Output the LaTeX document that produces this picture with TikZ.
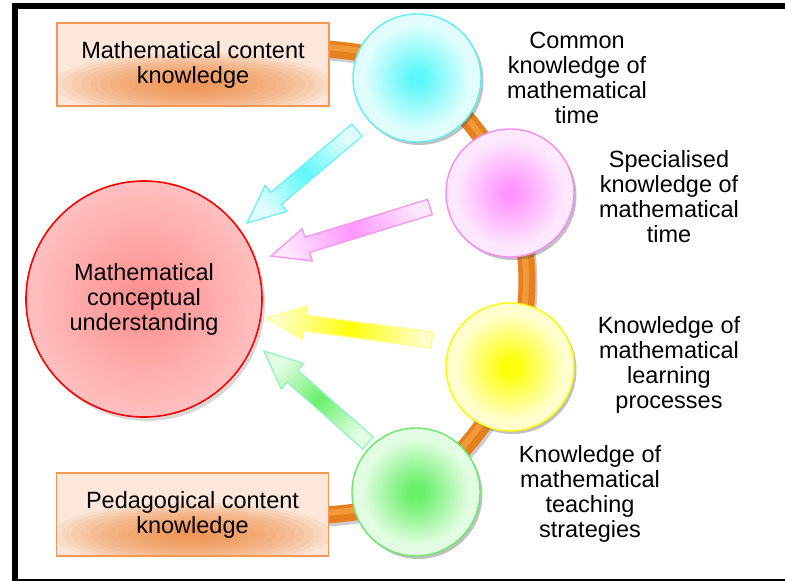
\documentclass[tikz,border=0pt]{standalone}
\usepackage{fontspec}
\setmainfont{Liberation Sans}
\usetikzlibrary{calc,shadows,backgrounds}
\definecolor{tubeo}{RGB}{230,128,30}
\definecolor{tubeh}{RGB}{246,160,64}
\definecolor{rectb}{RGB}{246,150,80}
\definecolor{rectp}{RGB}{252,231,218}
\definecolor{rectg}{RGB}{240,135,60}
\definecolor{cyb}{RGB}{95,238,245}
\definecolor{cyc}{RGB}{95,248,250}
\definecolor{cyp}{RGB}{226,253,253}
\definecolor{mgb}{RGB}{243,140,243}
\definecolor{mgc}{RGB}{255,150,255}
\definecolor{mgp}{RGB}{253,232,253}
\definecolor{ylb}{RGB}{255,250,0}
\definecolor{ylc}{RGB}{255,255,10}
\definecolor{ylp}{RGB}{255,255,205}
\definecolor{grb}{RGB}{105,235,105}
\definecolor{grc}{RGB}{105,240,105}
\definecolor{grp}{RGB}{226,253,226}
\definecolor{rdc}{RGB}{255,140,140}
\definecolor{rdp}{RGB}{255,192,192}
\definecolor{grab}{RGB}{150,240,200}
\definecolor{cyab}{RGB}{110,240,248}
\definecolor{mgab}{RGB}{245,150,240}
\definecolor{ylab}{RGB}{255,255,140}
\colorlet{gca}{white}
\colorlet{gcb}{white}
\pgfdeclareradialshading[gca,gcb]{glowball}{\pgfpoint{0bp}{0bp}}{color(0bp)=(gca); color(3bp)=(gca); color(21bp)=(gcb); color(25bp)=(gcb); color(50bp)=(gcb)}
\newcommand\karrow[6]{%
  \coordinate (hb) at ($(#2)!38pt!(#1)$);
  \draw[draw=#3, line width=1.3pt, top color=#4, bottom color=#4, middle color=#5, shading angle=#6]
    ($(#1)!8pt!90:(#2)$) -- ($(hb)!8pt!90:(#2)$) -- ($(hb)!17pt!90:(#2)$) -- (#2)
    -- ($(hb)!17pt!-90:(#2)$) -- ($(hb)!8pt!-90:(#2)$) -- ($(#1)!8pt!-90:(#2)$) -- cycle;}
\begin{document}
\begin{tikzpicture}[x=1pt,y=-1pt,
  txt/.style={font=\fontsize{23.5}{25}\selectfont, align=center, inner sep=0pt},
  rectbox/.style={txt, draw=rectb, line width=1.6pt, fill=rectp, minimum width=272pt, minimum height=83pt,
    path picture={
      \foreach \k in {1,...,14}{
        \fill[rectg, opacity=0.1] ([yshift=-20pt]path picture bounding box.center)
          ellipse [x radius={150pt-\k*9.5pt}, y radius={34pt-\k*2.1pt}];
      }}},
  kcirc/.style n args={3}{circle, minimum size=128pt, inner sep=0pt, draw=#1, line width=1.4pt,
    /utils/exec={\colorlet{gca}{#2}\colorlet{gcb}{#3}}, shade, shading=glowball,
    drop shadow={shadow xshift=2.5pt, shadow yshift=-3pt, opacity=0.35, fill=black!70}},
]
\useasboundingbox (0,0) rectangle (785,581);
% frame
\fill[black] (12,3) rectangle (785,9);
\fill[black] (12,3) rectangle (18,581);
\fill[black] (12,578.5) rectangle (785,580.5);

% boxes
\node[rectbox] (mck) at (193,64.5) {Mathematical content\\knowledge};
\node[rectbox] (pck) at (192.5,514.5) {Pedagogical content\\knowledge};

% big circle
\node[txt, circle, minimum size=236pt, draw=red, line width=1.6pt, inner color=rdc, outer color=rdp,
  drop shadow={shadow xshift=3pt, shadow yshift=-4pt, opacity=0.25, fill=black!60}] (mcu) at (144,299)
  {Mathematical\\conceptual\\understanding};

% small circles
\node[kcirc={cyb}{cyc}{cyp}] (ck) at (417,78) {};
\node[kcirc={mgb}{mgc}{mgp}] (sk) at (510,193) {};
\node[kcirc={ylb}{ylc}{ylp}] (lk) at (510,367) {};
\node[kcirc={grb}{grc}{grp}] (tk) at (416,492) {};

% tube behind
\begin{scope}[on background layer]
  \fill[white] (0,0) rectangle (785,581);
  \draw[black, opacity=0.2, line width=17pt, transform canvas={xshift=2pt, yshift=-3pt}]
    plot[smooth] coordinates {(326,49) (360,53) (400,66) (440,91) (472,125) (497,161) (515,201) (524,241) (527,282) (524,323) (515,363) (497,403) (472,439) (440,473) (400,498) (360,511) (326,515)};
  \draw[tubeo, line width=17pt]
    plot[smooth] coordinates {(326,49) (360,53) (400,66) (440,91) (472,125) (497,161) (515,201) (524,241) (527,282) (524,323) (515,363) (497,403) (472,439) (440,473) (400,498) (360,511) (326,515)};
  \draw[tubeh, line width=6pt, opacity=0.8, transform canvas={xshift=-1pt, yshift=2pt}]
    plot[smooth] coordinates {(326,49) (360,53) (400,66) (440,91) (472,125) (497,161) (515,201) (524,241) (527,282) (524,323) (515,363) (497,403) (472,439) (440,473) (400,498) (360,511) (326,515)};
\end{scope}

% arrows
\coordinate (cat) at (357,130); \coordinate (cah) at (247,223);
\coordinate (mat) at (430,207); \coordinate (mah) at (271,256);
\coordinate (yat) at (432,340); \coordinate (yah) at (267,318);
\coordinate (gat) at (368,443); \coordinate (gah) at (264,351);
\karrow{cat}{cah}{cyab}{cyp}{cyc}{130}
\karrow{mat}{mah}{mgab}{mgp}{mgc}{107}
\karrow{yat}{yah}{ylab}{ylp}{ylc}{82}
\karrow{gat}{gah}{grab}{grp}{grc}{48}

% labels
\node[txt] (l1) at (577,78) {Common\\knowledge of\\mathematical\\time};
\node[txt] (l2) at (669,197) {Specialised\\knowledge of\\mathematical\\time};
\node[txt] (l3) at (669,365) {Knowledge of\\mathematical\\learning\\processes};
\node[txt] (l4) at (590,494) {Knowledge of\\mathematical\\teaching\\strategies};
\end{tikzpicture}
\end{document}
